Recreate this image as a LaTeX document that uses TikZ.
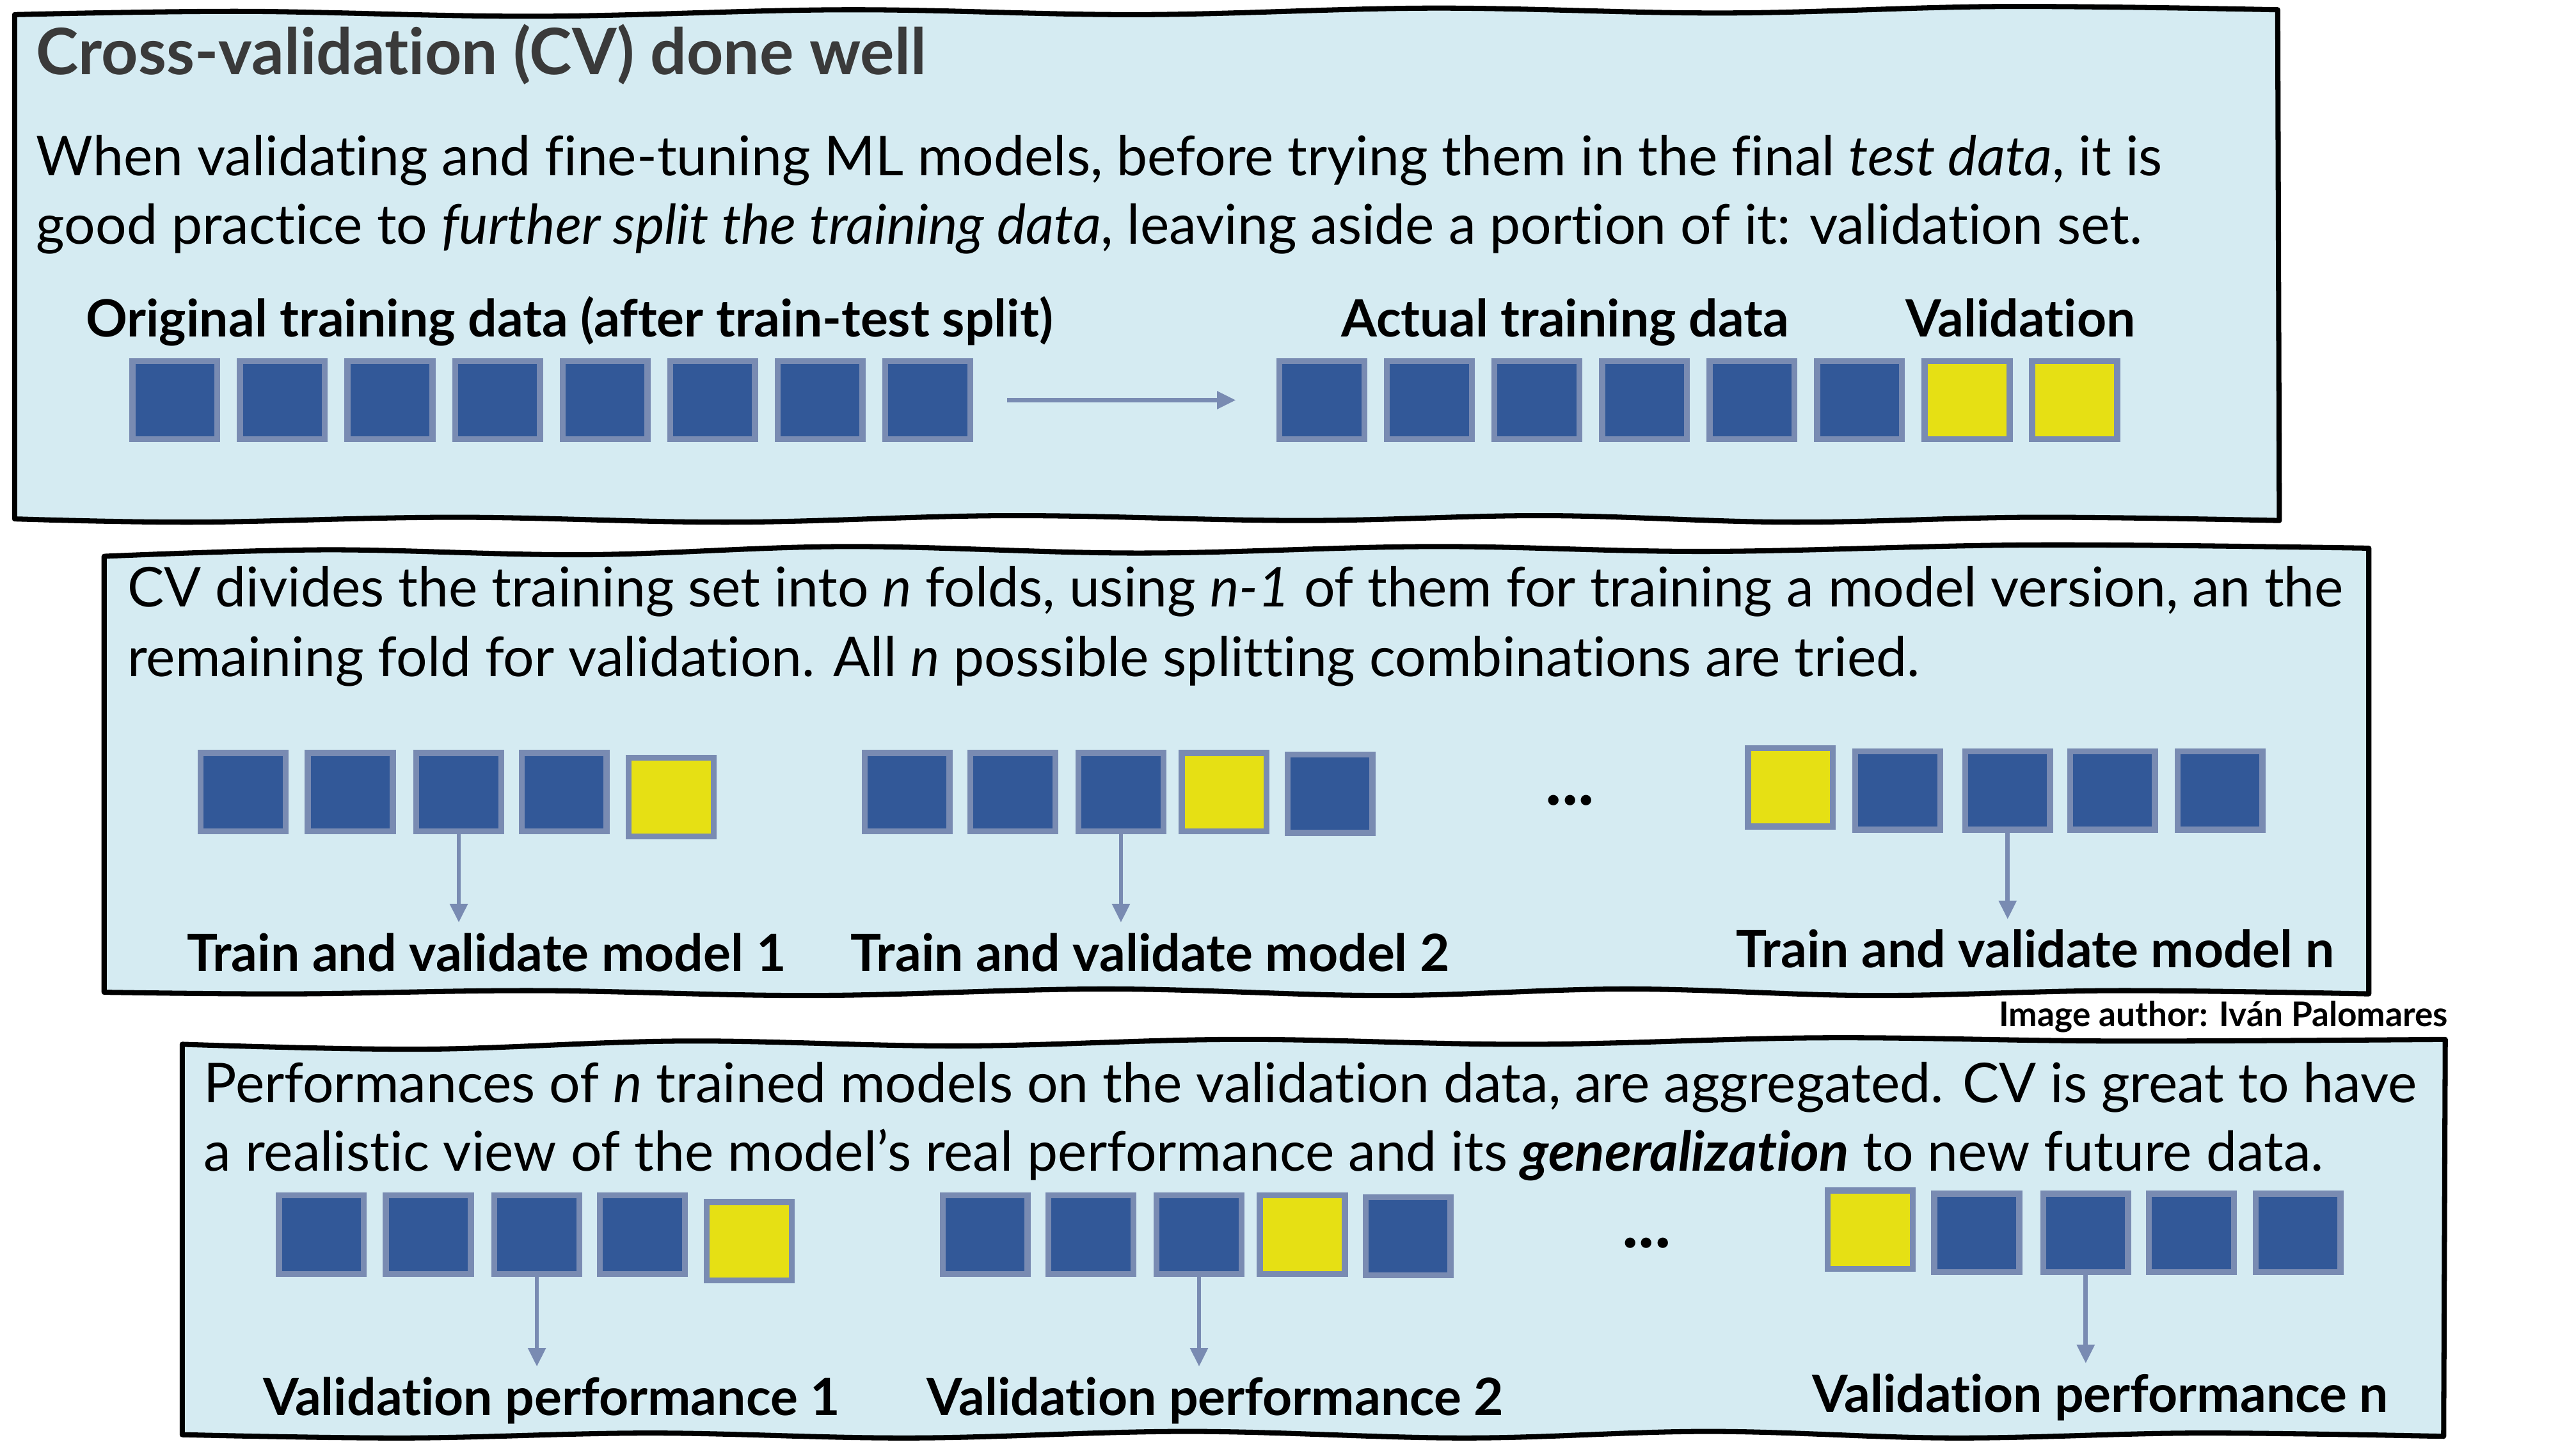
\documentclass[tikz,border=0pt]{standalone}
\usepackage{fontspec}
\setmainfont{Lato}[Ligatures=NoCommon]
\usetikzlibrary{arrows.meta}
\definecolor{panelfill}{HTML}{D5EBF2}
\definecolor{sqblue}{HTML}{325898}
\definecolor{sqborder}{HTML}{798BB2}
\definecolor{sqyellow}{HTML}{E6E014}
\definecolor{titlegray}{HTML}{3A3A3A}
\tikzset{
  panel/.style={draw=black, fill=panelfill, line width=1.8pt, line join=round},
  sq/.style={draw=sqborder, line width=2.1pt, minimum width=1.044cm, minimum height=0.964cm, inner sep=0pt},
  bsq/.style={sq, fill=sqblue},
  ysq/.style={sq, fill=sqyellow},
  arr/.style={draw=sqborder, line width=1.5pt, -{Triangle[length=0.23cm, width=0.21cm]}},
  body/.style={anchor=base west, inner sep=0pt, font=\fontsize{19.2}{23}\selectfont},
  lab/.style={anchor=base, inner sep=0pt, font=\fontsize{18}{22}\selectfont\bfseries},
  ttl/.style={anchor=base west, inner sep=0pt, text=titlegray, font=\fontsize{22.4}{26}\selectfont\bfseries},
  dotsty/.style={anchor=base, inner sep=0pt, font=\fontsize{24}{28}\selectfont\bfseries},
}
\begin{document}
\begin{tikzpicture}[x=0.02cm, y=-0.02cm]
\useasboundingbox (0,0) rectangle (1568,895);
% panels
\draw[panel] (9,9) -- plot[smooth, tension=0.6] coordinates {(9,9) (150,7) (330,10) (520,6) (700,9) (880,5) (1060,8) (1230,4) (1400,6)}
  -- (1401,320) -- plot[smooth, tension=0.6] coordinates {(1401,320) (1250,318) (1100,321) (950,317) (800,320) (620,317) (450,321) (280,318) (120,321) (9,319)} -- cycle;
\draw[panel] (64,342) -- plot[smooth, tension=0.6] coordinates {(64,342) (200,338) (360,341) (520,336) (700,340) (880,336) (1050,339) (1250,335) (1456,337)}
  -- (1456,611) -- plot[smooth, tension=0.6] coordinates {(1456,611) (1300,609) (1150,612) (1000,608) (850,612) (680,608) (500,612) (330,609) (180,611) (64,610)} -- cycle;
\draw[panel] (112,642) -- plot[smooth, tension=0.6] coordinates {(112,642) (260,645) (420,640) (590,643) (760,639) (940,642) (1120,638) (1300,640) (1503,639)}
  -- (1502,883) -- plot[smooth, tension=0.6] coordinates {(1502,883) (1350,881) (1200,884) (1050,880) (900,884) (730,880) (560,884) (400,881) (250,884) (112,882)} -- cycle;

% panel 1 text
\node[ttl] (title) at (22,46) {Cross-validation (CV) done well};
\node[body] (t1a) at (22,108) {When validating and fine-tuning ML models, before trying them in the final \textit{test data}, it is};
\node[body] (t1b) at (22,150) {good practice to \textit{further split the training data}, leaving aside a portion of it: validation set.};
\node[lab] (lo) at (350,207) {Original training data (after train-test split)};
\node[lab] (la) at (962,207) {Actual training data};
\node[lab] (lv) at (1242,207) {Validation};
\foreach \x [count=\i] in {107.5,173.6,239.7,305.8,371.9,438,504.1,570.2}
  \node[bsq] (a\i) at (\x,246) {};
\foreach \x [count=\i] in {812.5,878.6,944.7,1010.8,1076.9,1143}
  \node[bsq] (b\i) at (\x,246) {};
\node[ysq] (b7) at (1209.1,246) {};
\node[ysq] (b8) at (1275.2,246) {};
\draw[arr, shorten <=0.42cm, shorten >=0.5cm] (a8.east) -- (b1.west);

% panel 2 text
\node[body] (t2a) at (78,373) {CV divides the training set into \textit{n} folds, using \textit{n-1} of them for training a model version, an the};
\node[body] (t2b) at (78,416) {remaining fold for validation. All \textit{n} possible splitting combinations are tried.};
\foreach \x [count=\i] in {149.5,215.3,282,346.8}
  \node[bsq] (c\i) at (\x,487) {};
\node[ysq] (c5) at (412.5,490) {};
\foreach \x [count=\i] in {557.5,622.5,689}
  \node[bsq] (d\i) at (\x,487) {};
\node[ysq] (d4) at (752.5,487) {};
\node[bsq] (d5) at (817.5,488) {};
\node[ysq] (e1) at (1100.5,484) {};
\foreach \x [count=\i from 2] in {1166.5,1234,1298.5,1364.5}
  \node[bsq] (e\i) at (\x,486) {};
\node[dotsty] (dots2) at (965,495) {...};
\node[lab] (m1) at (299,597) {Train and validate model 1};
\node[lab] (m2) at (707,597) {Train and validate model 2};
\node[lab] (mn) at (1251,595) {Train and validate model n};
\draw[arr, shorten >=0.12cm] (c3.south) -- (c3.south |- m1.north);
\draw[arr, shorten >=0.12cm] (d3.south) -- (d3.south |- m2.north);
\draw[arr, shorten >=0.12cm] (e3.south) -- (e3.south |- mn.north);
\node[anchor=base east, inner sep=0pt, font=\fontsize{11.9}{14}\selectfont\bfseries] (author) at (1505,631) {Image author: Iván Palomares};

% panel 3 text
\node[body] (t3a) at (125,678) {Performances of \textit{n} trained models on the validation data, are aggregated. CV is great to have};
\node[body] (t3b) at (125,720) {a realistic view of the model’s real performance and its \textbf{\textit{generalization}} to new future data.};
\foreach \x [count=\i] in {197.5,263.3,330,394.8}
  \node[bsq] (f\i) at (\x,759) {};
\node[ysq] (f5) at (460.5,763) {};
\foreach \x [count=\i] in {605.5,670.5,737}
  \node[bsq] (g\i) at (\x,759) {};
\node[ysq] (g4) at (800.5,759) {};
\node[bsq] (g5) at (865.5,760) {};
\node[ysq] (h1) at (1149.5,756) {};
\foreach \x [count=\i from 2] in {1215,1282,1347,1412.5}
  \node[bsq] (h\i) at (\x,758) {};
\node[dotsty] (dots3) at (1012,767) {...};
\node[lab] (v1) at (339,870) {Validation performance 1};
\node[lab] (v2) at (747,870) {Validation performance 2};
\node[lab] (vn) at (1291,868) {Validation performance n};
\draw[arr, shorten >=0.12cm] (f3.south) -- (f3.south |- v1.north);
\draw[arr, shorten >=0.12cm] (g3.south) -- (g3.south |- v2.north);
\draw[arr, shorten >=0.12cm] (h3.south) -- (h3.south |- vn.north);
\end{tikzpicture}
\end{document}
